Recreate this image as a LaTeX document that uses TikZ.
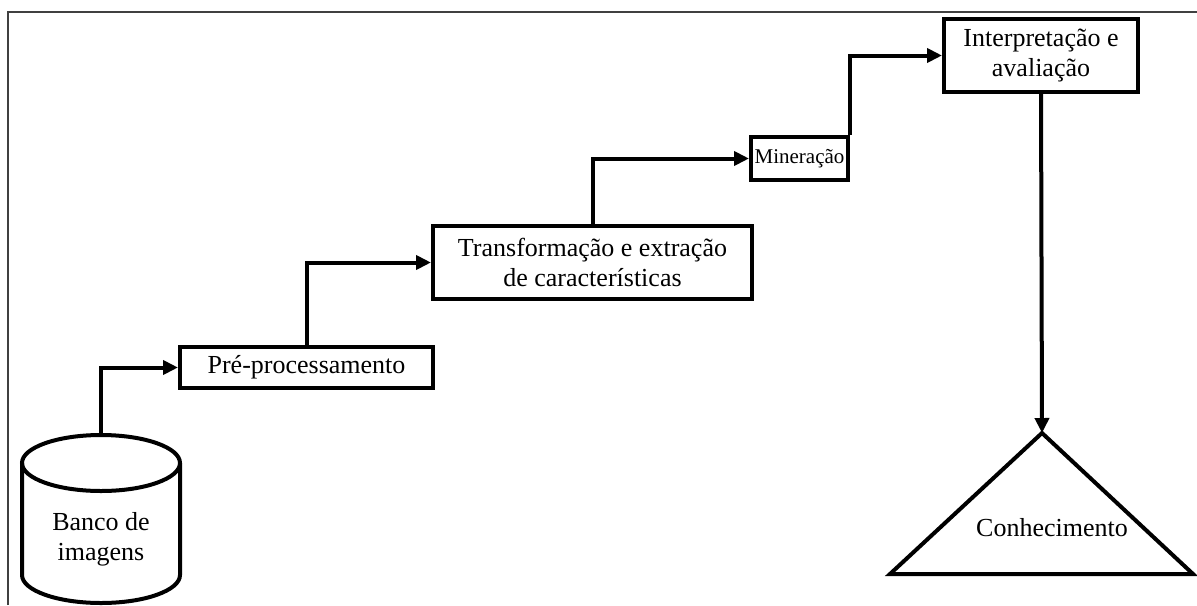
\documentclass[tikz,border=0pt]{standalone}
\usepackage{fontspec}
\setmainfont{Liberation Serif}
\usetikzlibrary{arrows.meta}
\begin{document}
\begin{tikzpicture}[x=0.5pt,y=0.5pt,
  box/.style={draw=black,line width=2pt,inner sep=0pt,align=center,
    font=\fontsize{13}{15}\selectfont},
  arr/.style={line width=2pt,-{Triangle[length=7.5pt,width=7pt]}},
  shapeline/.style={line width=2pt},
  lbl/.style={inner sep=0pt,align=center,font=\fontsize{13}{15}\selectfont}]
\useasboundingbox (0,0) rectangle (1197,-605);
% frame
\draw[line width=1pt,color=black!75] (8,-605) -- (8,-12) -- (1197,-12);
% database cylinder
\draw[shapeline,fill=white] (22,-463) -- (22,-575)
  arc[start angle=180,end angle=360,x radius=39.5pt,y radius=14pt] -- (180,-463);
\draw[shapeline] (101,-463) ellipse[x radius=39.5pt,y radius=14pt];
\coordinate (dbtop) at (101,-435);
\node[lbl] (db) at (101,-539) {Banco de\\imagens};
% boxes
\node[box,minimum width=126.5pt,minimum height=20.5pt] (pre) at (306.5,-367.5) {Pré-processamento};
\node[box,minimum width=159.5pt,minimum height=36.5pt] (trans) at (592.5,-262.5) {Transformação e extração\\de características};
\node[box,minimum width=48.5pt,minimum height=21.5pt,font=\fontsize{10.5}{12}\selectfont] (min) at (799.5,-158.5) {Mineração};
\node[box,minimum width=97pt,minimum height=36.5pt] (interp) at (1041,-55.5) {Interpretação e\\avaliação};
% knowledge triangle
\coordinate (apex) at (1042,-433);
\draw[shapeline,line join=miter] (apex) -- (1193,-574) -- (890,-574) -- cycle;
\node[lbl] (kn) at (1052,-528) {Conhecimento};
% connectors
\draw[arr] (dbtop) |- (pre.west);
\draw[arr] (pre.north) |- (trans.west);
\draw[arr] (trans.north) |- (min.west);
\draw[arr] (min.north east) |- (interp.west);
\draw[arr] (interp.south) -- (apex);
\end{tikzpicture}
\end{document}
